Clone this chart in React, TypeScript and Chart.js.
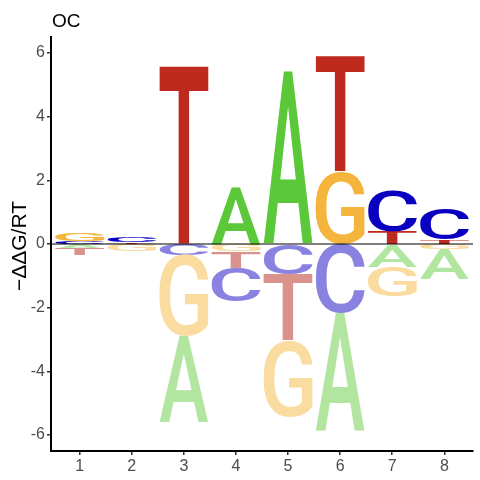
import { useEffect, useRef } from "react"
import { Chart, registerables } from "chart.js"

Chart.register(...registerables)

const positions = [1, 2, 3, 4, 5, 6, 7, 8]
const bases = ["A", "C", "G", "T"]

// letter heights above zero, one value per position
const upA = [0, 0, 0, 1.81, 5.46, 0, 0, 0]
const upC = [0.1, 0.16, 0, 0, 0, 0, 1.28, 1.0]
const upG = [0.26, 0, 0, 0, 0, 2.28, 0, 0]
const upT = [0, 0.05, 5.6, 0, 0, 3.64, 0.4, 0.135]

// letter heights below zero
const downA = [-0.17, 0, -2.71, 0, 0, -3.74, -0.72, -0.97]
const downC = [0, 0, -0.34, -1.06, -0.94, -2.17, 0, 0]
const downG = [0, -0.21, -2.56, -0.23, -2.39, 0, -0.93, -0.15]
const downT = [-0.19, 0, 0, -0.51, -2.09, 0, 0, 0]

const yTicks = [-6, -4, -2, 0, 2, 4, 6]

const upColors: Record<string, string> = { A: "#5bc83a", C: "#0a00c0", G: "#f5b43c", T: "#be2a1e" }
const downColors: Record<string, string> = { A: "#b2e6a0", C: "#8a82e0", G: "#fadba0", T: "#da938c" }

const LETTER_FONT = "500 200px Roboto"
const HALF_WIDTH = 0.47

type Glyph = { pos: number; base: string; from: number; to: number; color: string }

function buildGlyphs(): Glyph[] {
  const up = [upA, upC, upG, upT]
  const down = [downA, downC, downG, downT]
  const out: Glyph[] = []
  positions.forEach((pos, i) => {
    const above = bases
      .map((b, k) => ({ b, v: up[k][i] }))
      .filter((d) => d.v > 0)
      .sort((a, c) => a.v - c.v)
    let acc = 0
    for (const d of above) {
      out.push({ pos, base: d.b, from: acc, to: acc + d.v, color: upColors[d.b] })
      acc += d.v
    }
    const below = bases
      .map((b, k) => ({ b, v: down[k][i] }))
      .filter((d) => d.v < 0)
      .sort((a, c) => c.v - a.v)
    acc = 0
    for (const d of below) {
      out.push({ pos, base: d.b, from: acc, to: acc + d.v, color: downColors[d.b] })
      acc += d.v
    }
  })
  return out
}

const glyphs = buildGlyphs()

const logoPlugin = {
  id: "logo",
  afterDatasetsDraw(chart: Chart) {
    const { ctx, chartArea } = chart
    const x = chart.scales.x
    const y = chart.scales.y
    ctx.save()
    ctx.beginPath()
    ctx.rect(chartArea.left, chartArea.top, chartArea.right - chartArea.left, chartArea.bottom - chartArea.top)
    ctx.clip()
    ctx.font = LETTER_FONT
    ctx.textAlign = "left"
    ctx.textBaseline = "alphabetic"
    for (const g of glyphs) {
      const m = ctx.measureText(g.base)
      const gw = m.actualBoundingBoxLeft + m.actualBoundingBoxRight
      const gh = m.actualBoundingBoxAscent + m.actualBoundingBoxDescent
      const x0 = x.getPixelForValue(g.pos - HALF_WIDTH)
      const x1 = x.getPixelForValue(g.pos + HALF_WIDTH)
      const yTop = y.getPixelForValue(Math.max(g.from, g.to))
      const yBot = y.getPixelForValue(Math.min(g.from, g.to))
      ctx.save()
      ctx.translate(x0, yTop)
      ctx.scale((x1 - x0) / gw, (yBot - yTop) / gh)
      ctx.fillStyle = g.color
      ctx.fillText(g.base, m.actualBoundingBoxLeft, m.actualBoundingBoxAscent)
      ctx.restore()
    }
    // zero line
    const y0 = y.getPixelForValue(0)
    ctx.strokeStyle = "#000"
    ctx.lineWidth = 1.2
    ctx.beginPath()
    ctx.moveTo(chartArea.left, y0)
    ctx.lineTo(chartArea.right, y0)
    ctx.stroke()
    ctx.restore()
  },
  afterDraw(chart: Chart) {
    const { ctx, chartArea } = chart
    ctx.save()
    ctx.fillStyle = "#000"
    ctx.font = "19px 'Liberation Sans', Arial, sans-serif"
    ctx.textAlign = "left"
    ctx.textBaseline = "alphabetic"
    ctx.fillText("OC", chartArea.left + 1, 27)
    ctx.translate(26, (chartArea.top + chartArea.bottom) / 2 + 2)
    ctx.rotate(-Math.PI / 2)
    ctx.textAlign = "center"
    ctx.font = "21px 'Liberation Sans', Arial, sans-serif"
    ctx.fillText("\u2212\u0394\u0394G/RT", 0, 0)
    ctx.restore()
  },
}

function LogoChart() {
  const chartRef = useRef<HTMLCanvasElement>(null)
  const chartInstance = useRef<Chart | null>(null)

  useEffect(() => {
    if (!chartRef.current) return
    if (chartInstance.current) chartInstance.current.destroy()
    const ctx = chartRef.current.getContext("2d")
    if (!ctx) return

    const tickFont = { family: "'Liberation Sans', Arial, sans-serif", size: 16 }

    chartInstance.current = new Chart(ctx, {
      type: "scatter",
      data: {
        datasets: [
          {
            label: "total",
            data: positions.map((p, i) => ({ x: p, y: upA[i] + upC[i] + upG[i] + upT[i] })),
            pointRadius: 0,
            showLine: false,
          },
        ],
      },
      options: {
        animation: false,
        responsive: true,
        maintainAspectRatio: false,
        layout: { padding: { top: 37, right: 7, left: 0, bottom: 0 } },
        plugins: {
          legend: { display: false },
          tooltip: { enabled: false },
        },
        scales: {
          x: {
            type: "linear",
            min: 0.45,
            max: 8.55,
            afterBuildTicks: (scale: any) => {
              scale.ticks = positions.map((v) => ({ value: v }))
            },
            afterFit: (scale: any) => {
              scale.height = 29
            },
            border: { display: true, color: "#000", width: 2 },
            grid: { drawOnChartArea: false, drawTicks: true, tickLength: 4, color: "#333", lineWidth: 1.5 },
            ticks: { color: "#4d4d4d", font: tickFont, padding: 2, maxRotation: 0 },
          },
          y: {
            type: "linear",
            min: -6.5,
            max: 6.5,
            afterBuildTicks: (scale: any) => {
              scale.ticks = yTicks.map((v) => ({ value: v }))
            },
            afterFit: (scale: any) => {
              scale.width = 51
            },
            border: { display: true, color: "#000", width: 2 },
            grid: { drawOnChartArea: false, drawTicks: true, tickLength: 4, color: "#333", lineWidth: 1.5 },
            ticks: { color: "#4d4d4d", font: tickFont, padding: 2 },
          },
        },
      },
      plugins: [logoPlugin],
    })

    return () => {
      if (chartInstance.current) {
        chartInstance.current.destroy()
        chartInstance.current = null
      }
    }
  }, [])

  return (
    <div style={{ position: "fixed", left: 0, top: 0, width: 480, height: 480, background: "#fff" }}>
      <canvas ref={chartRef}></canvas>
    </div>
  )
}

export default function App() {
  return <LogoChart />
}
